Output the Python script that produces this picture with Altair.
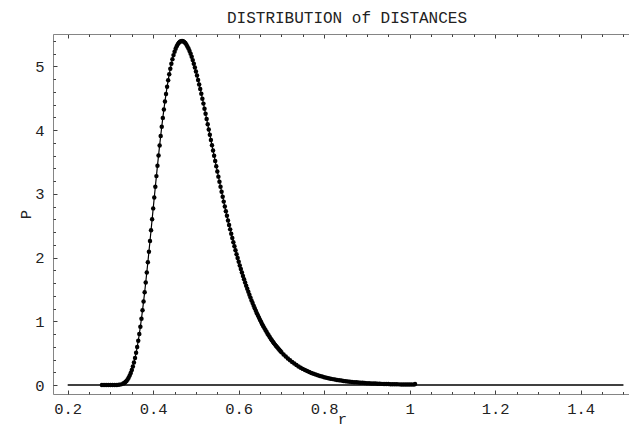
import altair as alt
import pandas as pd

# ---- data ----
r_vals = [
    0.28, 0.285, 0.29, 0.295, 0.30, 0.305, 0.31, 0.315, 0.32, 0.325, 0.33,
    0.3325, 0.335, 0.3375, 0.34, 0.3425, 0.345, 0.3475, 0.35, 0.3525, 0.355, 0.3575,
    0.36, 0.3625, 0.365, 0.3675, 0.37, 0.3725, 0.375, 0.3775, 0.38, 0.3825, 0.385,
    0.3875, 0.39, 0.3925, 0.395, 0.3975, 0.40, 0.4025, 0.405, 0.4075, 0.41, 0.4125,
    0.415, 0.4175, 0.42, 0.4225, 0.425, 0.4275, 0.43, 0.4325, 0.435, 0.4375, 0.44,
    0.4425, 0.445, 0.4475, 0.45, 0.4525, 0.455, 0.4575, 0.46, 0.4625, 0.465, 0.4675,
    0.47, 0.4725, 0.475, 0.4775, 0.48, 0.4825, 0.485, 0.4875, 0.49, 0.4925, 0.495,
    0.4975, 0.50, 0.5025, 0.505, 0.5075, 0.51, 0.5125, 0.515, 0.5175, 0.52, 0.5225,
    0.525, 0.5275, 0.53, 0.5325, 0.535, 0.5375, 0.54, 0.5425, 0.545, 0.5475, 0.55,
    0.5525, 0.555, 0.5575, 0.56, 0.5625, 0.565, 0.5675, 0.57, 0.5725, 0.575, 0.5775,
    0.58, 0.5825, 0.585, 0.5875, 0.59, 0.5925, 0.595, 0.5975, 0.60, 0.6025, 0.605,
    0.6075, 0.61, 0.6125, 0.615, 0.6175, 0.62, 0.6225, 0.625, 0.6275, 0.63, 0.6325,
    0.635, 0.6375, 0.64, 0.6425, 0.645, 0.6475, 0.65, 0.6525, 0.655, 0.6575, 0.66,
    0.6625, 0.665, 0.6675, 0.67, 0.6725, 0.675, 0.6775, 0.68, 0.6825, 0.685, 0.6875,
    0.69, 0.6925, 0.695, 0.6975, 0.70,
    0.705, 0.71, 0.715, 0.72, 0.725, 0.73, 0.735, 0.74, 0.745, 0.75, 0.755, 0.76,
    0.765, 0.77, 0.775, 0.78, 0.785, 0.79, 0.795, 0.80, 0.805, 0.81, 0.815, 0.82,
    0.825, 0.83, 0.835, 0.84, 0.845, 0.85, 0.855, 0.86, 0.865, 0.87, 0.875, 0.88,
    0.885, 0.89, 0.895, 0.90, 0.905, 0.91, 0.915, 0.92, 0.925, 0.93, 0.935, 0.94,
    0.945, 0.95, 0.955, 0.96, 0.965, 0.97, 0.975, 0.98, 0.985, 0.99, 0.995, 1.00,
    1.005, 1.01, 1.0125,
]
p_vals = [
    0.0, 0.0, 0.0, 0.0, 0.00001, 0.00005, 0.0003, 0.0012, 0.0038, 0.0101, 0.0231,
    0.0334, 0.0470, 0.0646, 0.0868, 0.1143, 0.1478, 0.1879, 0.2353, 0.2904, 0.3536, 0.4254,
    0.5059, 0.5955, 0.6937, 0.8009, 0.9162, 1.0406, 1.1722, 1.3112, 1.4570, 1.6087, 1.7658,
    1.9274, 2.0926, 2.2606, 2.4304, 2.6015, 2.7727, 2.9434, 3.1124, 3.2791, 3.4429, 3.6029,
    3.7585, 3.9092, 4.0543, 4.1932, 4.3258, 4.4514, 4.5696, 4.6805, 4.7835, 4.8787, 4.9657,
    5.0447, 5.1156, 5.1784, 5.2330, 5.2796, 5.3183, 5.3493, 5.3728, 5.3889, 5.3978, 5.4000,
    5.3952, 5.3842, 5.3671, 5.3441, 5.3156, 5.2818, 5.2431, 5.1997, 5.1519, 5.1000, 5.0443,
    4.9851, 4.9227, 4.8574, 4.7893, 4.7188, 4.6461, 4.5714, 4.4950, 4.4171, 4.3379, 4.2576,
    4.1765, 4.0946, 4.0123, 3.9295, 3.8465, 3.7635, 3.6805, 3.5978, 3.5153, 3.4333, 3.3518,
    3.2711, 3.1909, 3.1116, 3.0330, 2.9554, 2.8789, 2.8034, 2.7290, 2.6558, 2.5837, 2.5129,
    2.4433, 2.3751, 2.3081, 2.2424, 2.1780, 2.1150, 2.0534, 1.9930, 1.9340, 1.8763, 1.8200,
    1.7650, 1.7114, 1.6590, 1.6081, 1.5583, 1.5099, 1.4626, 1.4167, 1.3720, 1.3285, 1.2862,
    1.2450, 1.2050, 1.1661, 1.1284, 1.0917, 1.0561, 1.0215, 0.9879, 0.9554, 0.9237, 0.8931,
    0.8634, 0.8346, 0.8067, 0.7797, 0.7534, 0.7281, 0.7035, 0.6797, 0.6565, 0.6342, 0.6126,
    0.5917, 0.5715, 0.5519, 0.5330, 0.5147,
    0.4797, 0.4472, 0.4167, 0.3883, 0.3617, 0.3369, 0.3137, 0.2922, 0.2721, 0.2533, 0.2358, 0.2195,
    0.2043, 0.1900, 0.1768, 0.1645, 0.1531, 0.1425, 0.1326, 0.1234, 0.1148, 0.1069, 0.0994, 0.0925,
    0.0861, 0.0801, 0.0745, 0.0693, 0.0645, 0.0600, 0.0559, 0.0520, 0.0484, 0.0451, 0.0420, 0.0391,
    0.0364, 0.0339, 0.0316, 0.0294, 0.0274, 0.0255, 0.0237, 0.0221, 0.0206, 0.0192, 0.0179, 0.0167,
    0.0155, 0.0145, 0.0135, 0.0126, 0.0117, 0.0109, 0.0102, 0.0095, 0.0089, 0.0083, 0.0077, 0.0072,
    0.0067, 0.0063, 0.0150,
]
base_r = [0.2, 1.5]
base_p = [0.0, 0.0]

x_major = [0.2, 0.4, 0.6, 0.8, 1.0, 1.2, 1.4]
x_minor = [0.25, 0.3, 0.35, 0.45, 0.5, 0.55, 0.65, 0.7, 0.75, 0.85, 0.9, 0.95,
           1.05, 1.1, 1.15, 1.25, 1.3, 1.35, 1.45, 1.5]
y_major = [0, 1, 2, 3, 4, 5]
y_minor = [0.2, 0.4, 0.6, 0.8, 1.2, 1.4, 1.6, 1.8, 2.2, 2.4, 2.6, 2.8,
           3.2, 3.4, 3.6, 3.8, 4.2, 4.4, 4.6, 4.8, 5.2, 5.4]

curve = pd.DataFrame({"r": r_vals, "P": p_vals})
base = pd.DataFrame({"r": base_r, "P": base_p})

FONT = "Liberation Mono"
FRAME = "#858585"
TICK = "#404040"
TEXT = "#222222"

xs = alt.Scale(domain=[0.1656, 1.513], nice=False, zero=False)
ys = alt.Scale(domain=[-0.141, 5.51], nice=False, zero=False)


def tick_axis(orient, values, size, domain=False):
    return alt.Axis(orient=orient, values=values, labels=False, domain=domain,
                    domainColor=FRAME, domainWidth=1,
                    ticks=True, tickSize=alt.ExprRef(expr=str(-size)),
                    tickColor=TICK, tickWidth=1, grid=False, title=None,
                    minExtent=0, maxExtent=0)


x_label_axis = alt.Axis(orient="bottom", values=x_major, format="~g", ticks=False,
                        domain=True, domainColor=FRAME, domainWidth=1,
                        labelFont=FONT, labelFontSize=15.5, labelColor=TEXT,
                        labelPadding=7, grid=False, title="r",
                        titleFont=FONT, titleFontSize=15.5, titleFontWeight="normal",
                        titleColor=TEXT, titleX=289, titleY=29,
                        titleBaseline="alphabetic", titleAlign="center")
y_label_axis = alt.Axis(orient="left", values=y_major, format="~g", ticks=False,
                        domain=True, domainColor=FRAME, domainWidth=1,
                        labelFont=FONT, labelFontSize=15.5, labelColor=TEXT,
                        labelPadding=9, grid=False, title="P",
                        titleFont=FONT, titleFontSize=15.5, titleFontWeight="normal",
                        titleColor=TEXT, titleX=-28, titleY=180,
                        titleAngle=270, titleAlign="center", titleBaseline="middle")

baseline = alt.Chart(base).mark_line(color="black", strokeWidth=1.6).encode(
    x=alt.X("r:Q", scale=xs, axis=x_label_axis),
    y=alt.Y("P:Q", scale=ys, axis=y_label_axis),
)

curve_line = alt.Chart(curve).mark_line(color="black", strokeWidth=1.2).encode(
    x=alt.X("r:Q", scale=xs, axis=tick_axis("bottom", x_major, 4)),
    y=alt.Y("P:Q", scale=ys, axis=tick_axis("left", y_major, 4)),
)

curve_pts = alt.Chart(curve).mark_circle(color="black", size=20, opacity=1).encode(
    x=alt.X("r:Q", scale=xs, axis=tick_axis("bottom", x_minor, 2.5)),
    y=alt.Y("P:Q", scale=ys, axis=tick_axis("left", y_minor, 2.5)),
)

top_major = alt.Chart(base).mark_line(opacity=0).encode(
    x=alt.X("r:Q", scale=xs, axis=tick_axis("top", x_major, 4, domain=True)),
    y=alt.Y("P:Q", scale=ys, axis=None),
)

top_minor = alt.Chart(base).mark_line(opacity=0).encode(
    x=alt.X("r:Q", scale=xs, axis=tick_axis("top", x_minor, 2.5)),
    y=alt.Y("P:Q", scale=ys, axis=None),
)

chart = alt.layer(baseline, curve_line, curve_pts, top_major, top_minor).resolve_axis(
    x="independent", y="independent"
).properties(
    width=576,
    height=360,
    title=alt.TitleParams("DISTRIBUTION of DISTANCES", font=FONT, fontSize=16,
                          fontWeight="normal", color=TEXT, anchor="middle",
                          dx=6, dy=17, offset=12, baseline="alphabetic"),
    autosize=alt.AutoSizeParams(type="none"),
    padding={"left": 53, "top": 34, "right": 0, "bottom": 33},
).configure_view(stroke=None).configure(background="white")

chart.save("out.html", embed_options={"renderer": "svg", "actions": False})
